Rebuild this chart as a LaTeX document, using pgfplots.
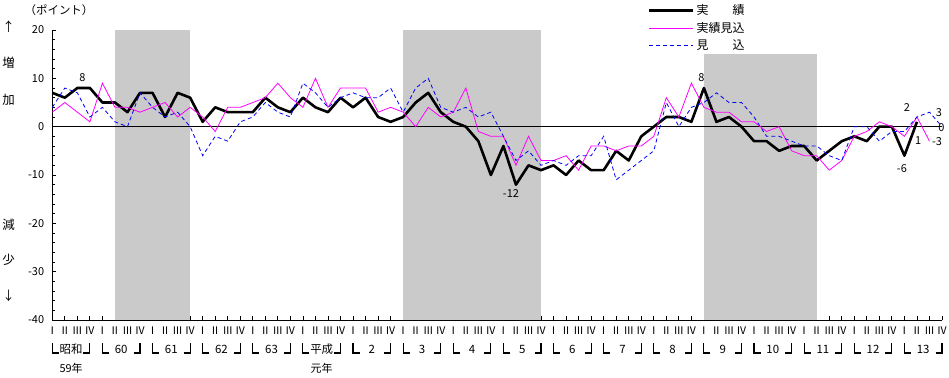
\documentclass[border=0pt]{standalone}
\usepackage{fontspec}
\setmainfont{Noto Sans CJK JP}
\usepackage{pgfplots}
\usepackage{pgfplotstable}
\pgfplotsset{compat=1.18}
\definecolor{mag}{RGB}{255,0,255}
\definecolor{blu}{RGB}{0,0,255}
\definecolor{shade}{RGB}{202,202,202}
\newcommand{\rn}[1]{\fontsize{10.5}{10.5}\selectfont\mbox{#1}}
\newcommand{\rA}{\rn{Ⅰ}}
\newcommand{\rB}{\rn{Ⅱ}}
\newcommand{\rC}{\rn{Ⅲ}}
\newcommand{\rD}{\rn{Ⅳ}}
\newcommand{\yl}[1]{\fontsize{11}{11}\selectfont\mbox{#1}}

\pgfplotstableread{
i v
0 7
1 6
2 8
3 8
4 5
5 5
6 3
7 7
8 7
9 2
10 7
11 6
12 1
13 4
14 3
15 3
16 3
17 6
18 4
19 3
20 6
21 4
22 3
23 6
24 4
25 6
26 2
27 1
28 2
29 5
30 7
31 3
32 1
33 0
34 -3
35 -10
36 -4
37 -12
38 -8
39 -9
40 -8
41 -10
42 -7
43 -9
44 -9
45 -5
46 -7
47 -2
48 0
49 2
50 2
51 1
52 8
53 1
54 2
55 0
56 -3
57 -3
58 -5
59 -4
60 -4
61 -7
62 -5
63 -3
64 -2
65 -3
66 0
67 0
68 -6
69 1
}\jisseki

\pgfplotstableread{
i v
0 3
1 5
2 3
3 1
4 9
5 4
6 4
7 3
8 4
9 5
10 2
11 4
12 2
13 -1
14 4
15 4
16 5
17 6
18 9
19 6
20 4
21 10
22 4
23 8
24 8
25 8
26 3
27 4
28 3
29 0
30 4
31 2
32 3
33 8
34 -1
35 -2
36 -2
37 -8
38 -2
39 -7
40 -7
41 -6
42 -9
43 -4
44 -4
45 -5
46 -4
47 -4
48 -2
49 6
50 2
51 9
52 4
53 3
54 3
55 1
56 1
57 -1
58 0
59 -5
60 -6
61 -6
62 -9
63 -7
64 -2
65 -1
66 1
67 0
68 -2
69 2
70 -3
}\jissekimikomi

\pgfplotstableread{
i v
0 4
1 8
2 7
3 2
4 4
5 1
6 0
7 7
8 4
9 2
10 3
11 0
12 -6
13 -2
14 -3
15 1
16 2
17 5
18 3
19 2
20 9
21 7
22 4
23 6
24 7
25 6
26 6
27 8
28 3
29 8
30 10
31 4
32 3
33 4
34 2
35 3
36 -2
37 -7
38 -5
39 -8
40 -7
41 -8
42 -6
43 -6
44 -2
45 -11
46 -9
47 -7
48 -5
49 5
50 0
51 4
52 5
53 7
54 5
55 5
56 2
57 -2
58 -2
59 -3
60 -4
61 -4
62 -6
63 -7
64 0
65 0
66 -3
67 -1
68 -1
69 2
70 3
71 0
}\mikomi

\begin{document}
\begin{tikzpicture}[x=1bp,y=1bp]
\begin{axis}[
  at={(52.3bp,57bp)}, anchor=south west,
  scale only axis, width=889.7bp, height=290bp,
  xmin=0, xmax=71, ymin=-40, ymax=20,
  axis x line*=bottom, axis y line*=left,
  axis line style={black, line width=1bp},
  xtick={0,...,71},
  xticklabels={\rA,\rB,\rC,\rD,\rA,\rB,\rC,\rD,\rA,\rB,\rC,\rD,\rA,\rB,\rC,\rD,\rA,\rB,\rC,\rD,\rA,\rB,\rC,\rD,\rA,\rB,\rC,\rD,\rA,\rB,\rC,\rD,\rA,\rB,\rC,\rD,\rA,\rB,\rC,\rD,\rA,\rB,\rC,\rD,\rA,\rB,\rC,\rD,\rA,\rB,\rC,\rD,\rA,\rB,\rC,\rD,\rA,\rB,\rC,\rD,\rA,\rB,\rC,\rD,\rA,\rB,\rC,\rD,\rA,\rB,\rC,\rD},
  ytick={-40,-30,-20,-10,0,10,20},
  yticklabels={\yl{-40},\yl{-30},\yl{-20},\yl{-10},\yl{0},\yl{10},\yl{20}},
  minor y tick num=4,
  tick align=inside,
  major tick length=4bp, minor tick length=3bp,
  tick style={black, line width=0.8bp},
  xticklabel style={inner sep=0bp, yshift=-7bp},
  yticklabel style={inner sep=1bp, xshift=-7bp},
  clip=false,
  legend cell align=left,
  legend image code/.code={\draw[#1] (0bp,0bp) -- (44bp,0bp);},
  legend style={draw=none, fill=none, at={(rel axis cs:0.6696,1.094)}, anchor=north west,
    inner sep=0pt, outer sep=0pt, row sep=2bp,
    font=\fontsize{12}{12}\selectfont,
    /tikz/every even column/.append style={column sep=4bp}},
]
% recession shading
\addplot[fill=shade, draw=none, forget plot] coordinates {(5,-40) (5,20) (11,20) (11,-40)} -- cycle;
\addplot[fill=shade, draw=none, forget plot] coordinates {(28,-40) (28,20) (39,20) (39,-40)} -- cycle;
\addplot[fill=shade, draw=none, forget plot] coordinates {(52,-40) (52,15) (61,15) (61,-40)} -- cycle;
% zero line
\addplot[black, line width=0.9bp, forget plot] coordinates {(0,0) (71,0)};

\addplot[black, line width=2.6bp, line join=round] table[x=i,y=v] {\jisseki};
\addlegendentry{実　　績}
\addplot[mag, line width=0.8bp] table[x=i,y=v] {\jissekimikomi};
\addlegendentry{実績見込}
\addplot[blu, line width=0.8bp, dash pattern=on 4bp off 3bp] table[x=i,y=v] {\mikomi};
\addlegendentry{見　　込}

\begin{scope}[font=\fontsize{11}{11}\selectfont]
\node at (axis cs:2.4,10.1) {8};
\node at (axis cs:36.6,-13.8) {-12};
\node at (axis cs:51.8,10.2) {8};
\node at (axis cs:68.2,4) {2};
\node at (axis cs:69.1,-2.9) {1};
\node at (axis cs:67.8,-8.7) {-6};
\node at (axis cs:70.75,3) {3};
\node at (axis cs:70.95,-0.1) {0};
\node at (axis cs:70.6,-3.1) {-3};
\end{scope}
\end{axis}

% left-side captions
\node[font=\fontsize{11.5}{11.5}\selectfont] at (59,367) {（ポイント）};
\begin{scope}[font=\fontsize{12.5}{12.5}\selectfont]
\node at (8.5,350) {↑};
\node at (8.5,314) {増};
\node at (8.5,277) {加};
\node at (8.5,152) {減};
\node at (8.5,117) {少};
\node at (8.5,81) {↓};
\end{scope}

% year brackets and labels
\foreach \lab [count=\k from 0] in {昭和,60,61,62,63,平成,2,3,4,5,6,7,8,9,10,11,12,13}{
  \pgfmathsetmacro{\xa}{52.3+12.531*4*\k}
  \pgfmathsetmacro{\xb}{52.3+12.531*(4*\k+3)}
  \pgfmathsetmacro{\xc}{52.3+12.531*(4*\k+1.5)}
  \draw[line width=1.1bp] (\xa,34) -- (\xa,24) -- (\xa+6.5,24);
  \draw[line width=1.1bp] (\xb-6.5,24) -- (\xb,24) -- (\xb,34);
  \node[font=\fontsize{11.5}{11.5}\selectfont] at (\xc,28) {\lab};
}
\node[font=\fontsize{11}{11}\selectfont] at (71.1,9) {59年};
\node[font=\fontsize{11}{11}\selectfont] at (321.7,9) {元年};

\pgfresetboundingbox
\useasboundingbox (0,0) rectangle (949,377);
\end{tikzpicture}
\end{document}
